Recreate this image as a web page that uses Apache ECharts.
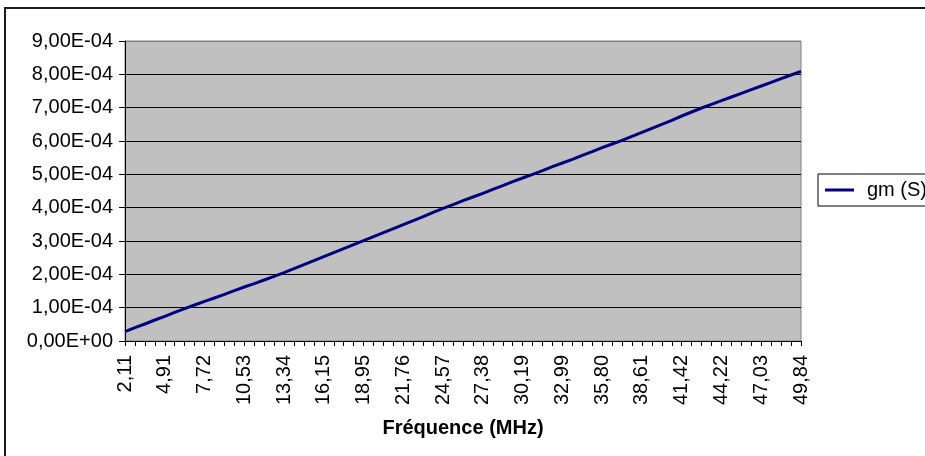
<!DOCTYPE html>
<html>
<head>
<meta charset="utf-8">
<script src="https://cdn.jsdelivr.net/npm/echarts@6/dist/echarts.min.js"></script>
<style>
  html, body { margin: 0; padding: 0; background: #fff; }
  #chart { width: 925px; height: 456px; }
</style>
</head>
<body>
<div id="chart"></div>
<script>
// Frequency points (MHz), French decimal comma
const frequencies = [
  "2,11","2,81","3,51","4,21","4,91","5,61","6,32","7,02",
  "7,72","8,42","9,12","9,83","10,53","11,23","11,93","12,63",
  "13,34","14,04","14,74","15,44","16,15","16,85","17,55","18,25",
  "18,95","19,66","20,36","21,06","21,76","22,46","23,17","23,87",
  "24,57","25,27","25,98","26,68","27,38","28,08","28,78","29,49",
  "30,19","30,89","31,59","32,29","32,99","33,70","34,40","35,10",
  "35,80","36,51","37,21","37,91","38,61","39,31","40,02","40,72",
  "41,42","42,12","42,82","43,52","44,22","44,93","45,63","46,33",
  "47,03","47,74","48,44","49,14","49,84"
];

// Transconductance gm (S)
const gm = [
  2.8e-5, 4.0e-5, 5.1e-5, 6.3e-5, 7.4e-5, 8.6e-5, 9.7e-5, 1.08e-4,
  1.19e-4, 1.29e-4, 1.40e-4, 1.51e-4, 1.62e-4, 1.72e-4, 1.83e-4, 1.94e-4,
  2.05e-4, 2.17e-4, 2.29e-4, 2.41e-4, 2.53e-4, 2.65e-4, 2.77e-4, 2.89e-4,
  3.01e-4, 3.13e-4, 3.25e-4, 3.37e-4, 3.49e-4, 3.61e-4, 3.73e-4, 3.86e-4,
  3.98e-4, 4.09e-4, 4.21e-4, 4.32e-4, 4.43e-4, 4.55e-4, 4.66e-4, 4.78e-4,
  4.89e-4, 5.00e-4, 5.11e-4, 5.23e-4, 5.34e-4, 5.45e-4, 5.57e-4, 5.68e-4,
  5.80e-4, 5.91e-4, 6.02e-4, 6.14e-4, 6.26e-4, 6.38e-4, 6.50e-4, 6.62e-4,
  6.75e-4, 6.87e-4, 6.99e-4, 7.10e-4, 7.21e-4, 7.32e-4, 7.43e-4, 7.54e-4,
  7.65e-4, 7.76e-4, 7.87e-4, 7.98e-4, 8.09e-4
];

const seriesName = "gm (S)";
const xAxisTitle = "Fréquence (MHz)";
const yMin = 0, yMax = 9e-4, yStep = 1e-4;

// "9,00E-04" style scientific labels
function sci(v) {
  const parts = Number(v).toExponential(2).split('e');
  const mant = parts[0].replace('.', ',');
  const exp = parseInt(parts[1], 10);
  const sign = exp < 0 ? '-' : '+';
  const digits = String(Math.abs(exp)).padStart(2, '0');
  return mant + 'E' + sign + digits;
}

const FONT = '"Liberation Sans", Arial, sans-serif';

// grid line colours: black inside, grey along the top edge
const splitColors = ['#000','#000','#000','#000','#000','#000','#000','#000','#000','#808080'];

const chart = echarts.init(document.getElementById('chart'), null, { renderer: 'canvas' });
chart.setOption({
  animation: false,
  backgroundColor: '#ffffff',
  textStyle: { fontFamily: FONT },
  graphic: [{
    type: 'rect',
    shape: { x: 5, y: 8, width: 1000, height: 1000 },
    style: { fill: 'none', stroke: '#1a1a1a', lineWidth: 2 },
    silent: true
  }],
  grid: {
    left: 125, right: 124, top: 41, bottom: 115,
    show: true,
    backgroundColor: '#C0C0C0',
    borderColor: '#808080',
    borderWidth: 1
  },
  legend: {
    left: 818, top: 174,
    orient: 'vertical',
    data: [{ name: seriesName, icon: 'rect' }],
    itemWidth: 29, itemHeight: 3,
    padding: [6, 8, 6, 7],
    borderColor: '#000', borderWidth: 1,
    backgroundColor: '#fff',
    borderRadius: 0,
    textStyle: { fontSize: 20, color: '#000', fontFamily: FONT, padding: [0, 0, 0, 8] }
  },
  xAxis: {
    type: 'category',
    data: frequencies,
    boundaryGap: false,
    name: xAxisTitle,
    nameLocation: 'middle',
    nameGap: 77,
    nameTextStyle: { fontSize: 20, fontWeight: 'bold', color: '#000', fontFamily: FONT },
    axisLine: { lineStyle: { color: '#000', width: 1 } },
    axisTick: { show: true, interval: 0, length: 5, lineStyle: { color: '#000' } },
    axisLabel: { interval: 3, rotate: 90, margin: 14, fontSize: 20, color: '#000', fontFamily: FONT },
    splitLine: { show: false }
  },
  yAxis: {
    type: 'value',
    min: yMin, max: yMax, interval: yStep,
    axisLine: { show: true, lineStyle: { color: '#000', width: 1 } },
    axisTick: { show: true, length: 6, lineStyle: { color: '#000' } },
    axisLabel: { margin: 12, fontSize: 20, color: '#000', fontFamily: FONT, formatter: sci },
    splitLine: { show: true, lineStyle: { color: splitColors, width: 1 } }
  },
  series: [{
    name: seriesName,
    type: 'line',
    data: gm,
    showSymbol: false,
    symbol: 'none',
    color: '#000080',
    lineStyle: { color: '#000080', width: 3 }
  }]
});
</script>
</body>
</html>
